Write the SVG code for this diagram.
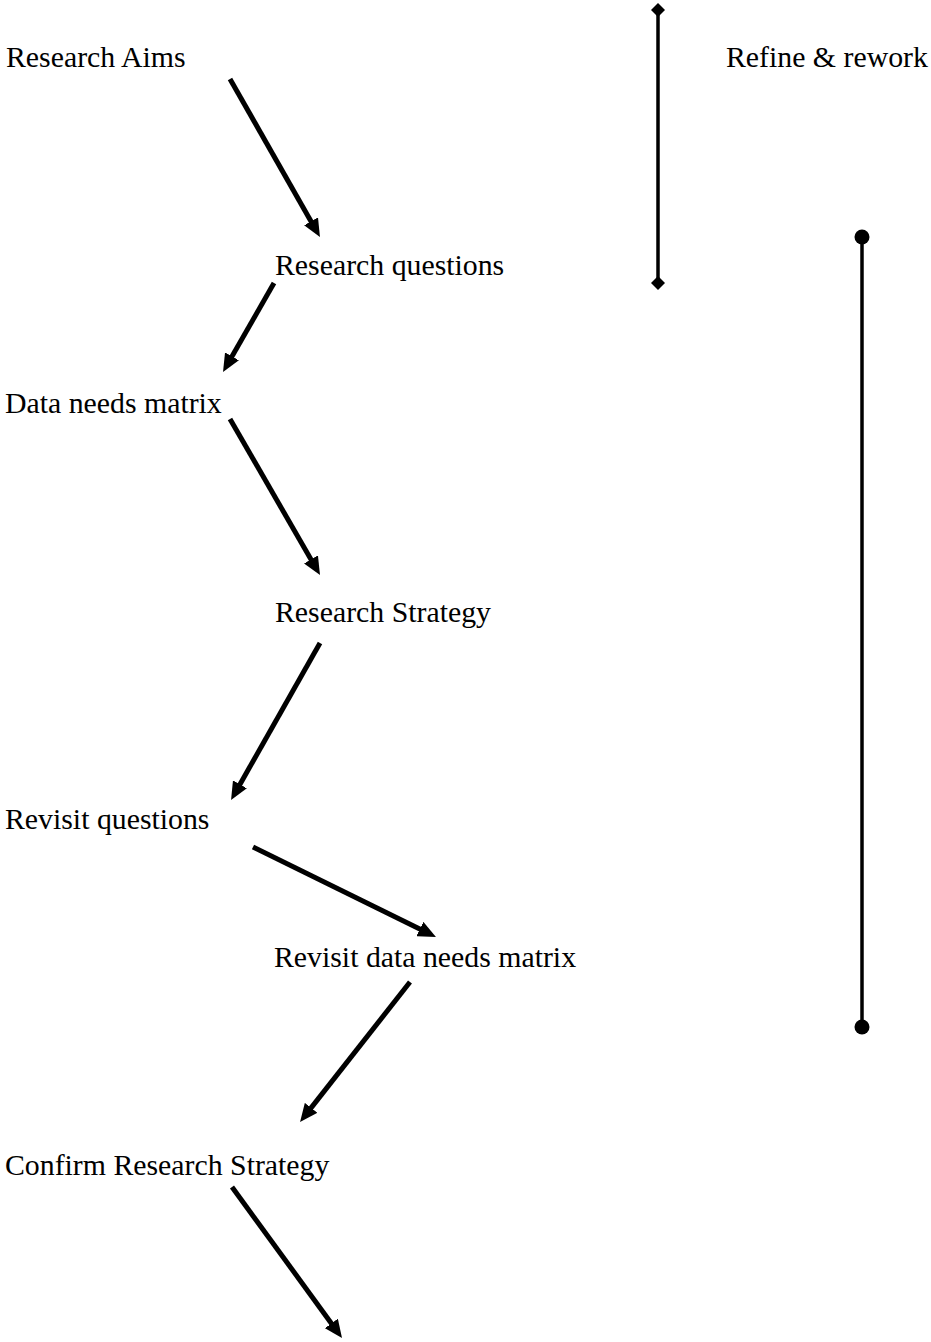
<svg xmlns="http://www.w3.org/2000/svg" width="931" height="1342" viewBox="0 0 931 1342">
<style>
.lbl{font-family:"Liberation Serif","Times New Roman",serif;font-size:29.8px;fill:#000}
.arr{stroke:#000;stroke-width:5;fill:none;marker-end:url(#ah)}
.bar{stroke:#000;stroke-width:3.5;fill:none}
</style>
<defs>
<marker id="ah" viewBox="0 0 18 16" refX="9" refY="8" markerWidth="18" markerHeight="16" markerUnits="userSpaceOnUse" orient="auto">
<path d="M0,0 L18,8 L0,16 z" fill="#000"/>
</marker>
<marker id="dm" viewBox="0 0 14 14" refX="7" refY="7" markerWidth="14" markerHeight="14" markerUnits="userSpaceOnUse" orient="auto">
<path d="M0,7 L7,0 L14,7 L7,14 z" fill="#000"/>
</marker>
<marker id="dot" viewBox="0 0 16 16" refX="8" refY="8" markerWidth="16" markerHeight="16" markerUnits="userSpaceOnUse">
<circle cx="8" cy="8" r="7.5" fill="#000"/>
</marker>
</defs>
<rect width="931" height="1342" fill="#fff"/>
<g id="n-aims"><text class="lbl" x="6" y="67">Research Aims</text></g>
<g id="n-refine"><text class="lbl" x="726" y="67">Refine &amp; rework</text></g>
<g id="n-questions"><text class="lbl" x="275" y="275">Research questions</text></g>
<g id="n-matrix"><text class="lbl" x="5" y="413">Data needs matrix</text></g>
<g id="n-strategy"><text class="lbl" x="275" y="622">Research Strategy</text></g>
<g id="n-revq"><text class="lbl" x="5" y="829">Revisit questions</text></g>
<g id="n-revm"><text class="lbl" x="274" y="967">Revisit data needs matrix</text></g>
<g id="n-confirm"><text class="lbl" x="5" y="1175">Confirm Research Strategy</text></g>
<g id="connectors">
<line class="arr" x1="230" y1="79" x2="315.5" y2="229.2"/>
<line class="arr" x1="274" y1="283" x2="227.5" y2="364.2"/>
<line class="arr" x1="230" y1="419" x2="315.5" y2="567.2"/>
<line class="arr" x1="320" y1="643" x2="235.5" y2="792.2"/>
<line class="arr" x1="253" y1="847" x2="427.9" y2="933"/>
<line class="arr" x1="410" y1="982" x2="305.6" y2="1114.9"/>
<line class="arr" x1="232" y1="1187" x2="336.7" y2="1330.7"/>
<line class="bar" x1="658" y1="10" x2="658" y2="283" marker-start="url(#dm)" marker-end="url(#dm)"/>
<line class="bar" x1="862" y1="237" x2="862" y2="1027" marker-start="url(#dot)" marker-end="url(#dot)"/>
</g>
</svg>
